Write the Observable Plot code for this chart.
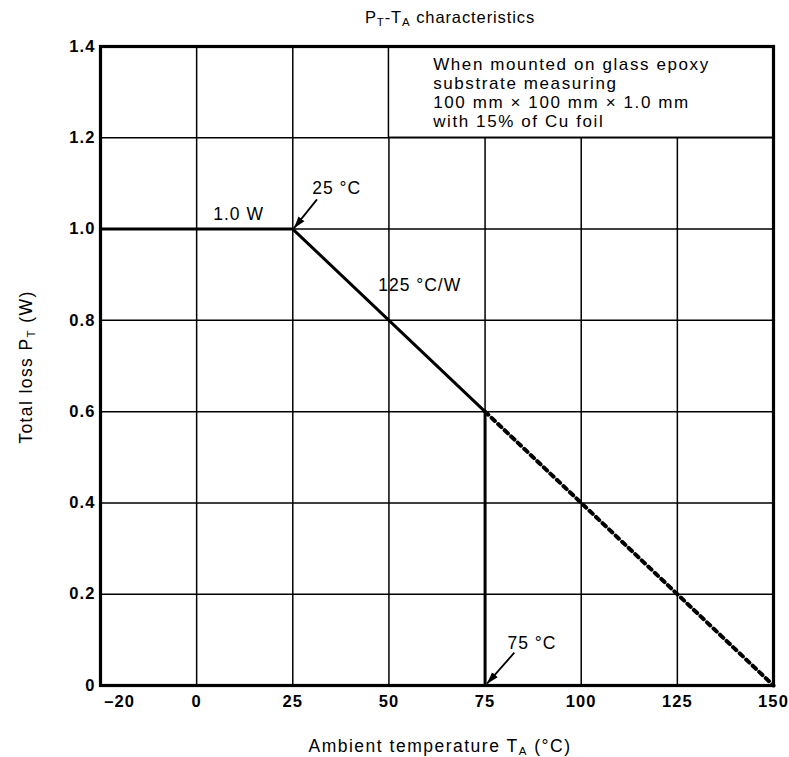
<!DOCTYPE html>
<html><head><meta charset="utf-8">
<script src="https://cdn.jsdelivr.net/npm/d3@7"></script>
<script src="https://cdn.jsdelivr.net/npm/@observablehq/plot@0.6"></script>
<style>body{margin:0;background:#fff;font-family:"Liberation Sans",Arial,sans-serif}</style>
</head><body><div id="chart"></div>
<script>
// Data
const derateTemp = [-25, 25, 75];
const deratePower = [1.0, 1.0, 0.6];
const cutoffTemp = [75, 75];
const cutoffPower = [0.6, 0];
const dottedTemp = [75, 150];
const dottedPower = [0.6, 0];
const xTicks = [-20, 0, 25, 50, 75, 100, 125, 150];
const xGrid = [0, 25, 50, 75, 100, 125];
const yTicks = [0, 0.2, 0.4, 0.6, 0.8, 1.0, 1.2, 1.4];
const yGrid = [0.2, 0.4, 0.6, 0.8, 1.0, 1.2];
const noteLines = ["When mounted on glass epoxy", "substrate measuring", "100 mm \u00d7 100 mm \u00d7 1.0 mm", "with 15% of Cu foil"];
const labels = [
  {t: "1.0 W", x: 10.9, y: 1.032},
  {t: "25 \u00b0C", x: 36.4, y: 1.089},
  {t: "125 \u00b0C/W", x: 58, y: 0.876},
  {t: "75 \u00b0C", x: 87.2, y: 0.092}
];
const arrows = [
  {x1: 31.3, y1: 1.065, x2: 25.3, y2: 1.002},
  {x1: 82.6, y1: 0.072, x2: 75.5, y2: 0.004}
];

const line = (xs, ys) => xs.map((x, i) => ({x, y: ys[i]}));

const plot = Plot.plot({
  width: 789, height: 757,
  marginLeft: 100, marginRight: 16, marginTop: 46, marginBottom: 72,
  style: {fontFamily: "Liberation Sans, Arial, sans-serif", background: "#fff", color: "#000"},
  x: {domain: [-25, 150]},
  y: {domain: [0, 1.4]},
  marks: [
    Plot.ruleX(xGrid, {stroke: "#000", strokeWidth: 1.5}),
    Plot.ruleY(yGrid, {stroke: "#000", strokeWidth: 1.5}),
    Plot.rect([{x1: 50, x2: 150, y1: 1.2, y2: 1.4}], {x1: "x1", x2: "x2", y1: "y1", y2: "y2", fill: "#fff", stroke: "#000", strokeWidth: 1.5}),
    Plot.text(noteLines, {x: 61.5, y: (d, i) => 1.3595 - i * 0.0412, text: d => d, textAnchor: "start", fontSize: 17, fill: "#000", className: "boxtext"}),
    Plot.line(line(derateTemp, deratePower), {x: "x", y: "y", stroke: "#000", strokeWidth: 3}),
    Plot.line(line(cutoffTemp, cutoffPower), {x: "x", y: "y", stroke: "#000", strokeWidth: 3}),
    Plot.line(line(dottedTemp, dottedPower), {x: "x", y: "y", stroke: "#000", strokeWidth: 4, strokeDasharray: "4.5,4.5"}),
    Plot.link(arrows, {x1: "x1", y1: "y1", x2: "x2", y2: "y2", stroke: "#000", strokeWidth: 1.8, className: "annarrow"}),
    Plot.text(labels, {x: "x", y: "y", text: "t", fontSize: 17.5, fill: "#000", className: "spaced"}),
    Plot.frame({stroke: "#000", strokeWidth: 3.2}),
    Plot.axisX(xTicks, {tickSize: 0, tickPadding: 10, label: null, className: "tickspaced", tickFormat: d => d < 0 ? "\u2013" + Math.abs(d) : String(d)}),
    Plot.axisY(yTicks, {tickSize: 0, tickPadding: 5, label: null, className: "tickspaced", tickFormat: d => d === 0 ? "0" : d.toFixed(1)})
  ]
});
document.getElementById("chart").append(plot);

const svg = d3.select(plot);
svg.selectAll(".spaced text").attr("letter-spacing", "1px");
svg.selectAll(".boxtext text").attr("letter-spacing", "1.6px");
svg.selectAll(".tickspaced").style("font-size", "16.5px").style("font-weight", "bold");
svg.selectAll(".tickspaced text").style("letter-spacing", "1.1px").style("font-size", "16.5px").style("font-weight", "bold");

// filled arrowhead marker
const defs = svg.insert("defs", ":first-child");
defs.append("marker").attr("id", "ah").attr("viewBox", "0 0 12 10").attr("refX", 12).attr("refY", 5)
  .attr("markerWidth", 12).attr("markerHeight", 10).attr("markerUnits", "userSpaceOnUse").attr("orient", "auto")
  .append("path").attr("d", "M0,1.2L12,5L0,8.8z").attr("fill", "#000");
svg.selectAll(".annarrow path").attr("marker-end", "url(#ah)");

function sub(textSel, parts) {
  let lowered = false;
  parts.forEach(p => {
    const t = textSel.append("tspan").text(p.s);
    if (p.sub) { t.attr("font-size", "11.5px").attr("dy", "2.5"); lowered = true; }
    else if (lowered) { t.attr("dy", "-2.5"); lowered = false; }
  });
}
const title = svg.append("text").attr("x", 450).attr("y", 23).attr("text-anchor", "middle")
  .attr("font-size", 16.5).attr("letter-spacing", "0.9px").attr("fill", "#000");
sub(title, [{s: "P"}, {s: "T", sub: true}, {s: "-T"}, {s: "A", sub: true}, {s: " characteristics"}]);

const xl = svg.append("text").attr("x", 440).attr("y", 752).attr("text-anchor", "middle")
  .attr("font-size", 17.5).attr("letter-spacing", "1.5px").attr("fill", "#000");
sub(xl, [{s: "Ambient temperature T"}, {s: "A", sub: true}, {s: " (\u00b0C)"}]);

const yl = svg.append("text").attr("transform", "translate(32,367) rotate(-90)").attr("text-anchor", "middle")
  .attr("font-size", 17.5).attr("letter-spacing", "1.4px").attr("fill", "#000");
sub(yl, [{s: "Total loss P"}, {s: "T", sub: true}, {s: " (W)"}]);
</script>
</body></html>
